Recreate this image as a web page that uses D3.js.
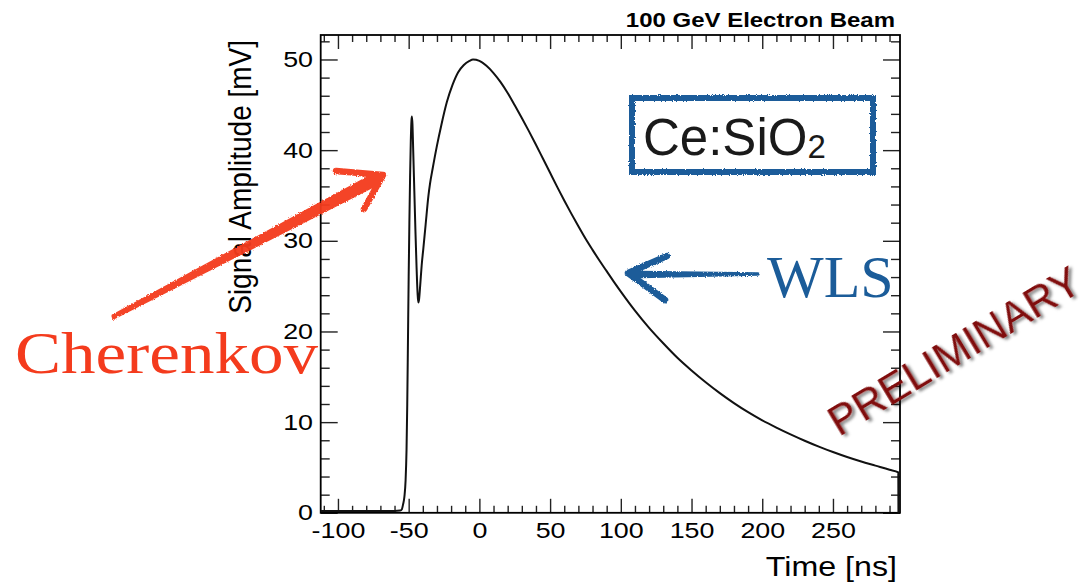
<!DOCTYPE html>
<html>
<head>
<meta charset="utf-8">
<script src="https://cdn.jsdelivr.net/npm/d3@7/dist/d3.min.js"></script>
<style>
  html, body { margin: 0; padding: 0; background: #fff; }
  svg { display: block; }
  .rootfont { font-family: "Liberation Sans", Arial, Helvetica, sans-serif; }
</style>
</head>
<body>
<svg id="chart" width="1089" height="583"></svg>
<script>
// Signal waveform: time [ns] and amplitude [mV]
const timeNs = [
  -112.2, -100, -90, -80, -70, -60, -56, -54.8, -54, -53, -52.2, -51.5, -51, -50.5,
  -50, -49.5, -49, -48.5, -48.0, -47.7, -47.3, -46.8, -46, -45.2, -44.4, -43.7,
  -43.2, -42.6, -41.8, -40.8, -39.6, -38, -36, -34.9, -33, -30, -27, -23, -19,
  -15, -11, -7, -4.5, 0, 5, 10, 15, 20, 25, 30, 35, 40, 45, 50, 55, 60, 65,
  70, 75, 80, 85, 90, 95, 100, 110, 120, 130, 140, 150, 160, 170, 180, 190, 200,
  210, 220, 230, 240, 250, 260, 270, 280, 290, 296.2, 296.3
];
const amplitudeMv = [
  0.2, 0.2, 0.2, 0.2, 0.2, 0.2, 0.25, 0.4, 0.9, 1.8, 3.5, 7, 12, 19,
  26, 32, 37, 41, 43.3, 43.7, 42.8, 40, 35.5, 31, 27, 24.2,
  23.2, 23.6, 25.2, 27.3, 29.2, 31.8, 35.0, 36.3, 38.0, 40.5, 42.7, 45.3, 47.2,
  48.6, 49.4, 49.85, 50.0, 49.85, 49.3, 48.5, 47.5, 46.3, 44.95, 43.55, 42.1, 40.6, 39.05, 37.5, 35.95, 34.45, 33.0,
  31.6, 30.25, 29.0, 27.8, 26.65, 25.5, 24.4, 22.3, 20.4, 18.7, 17.1, 15.7, 14.4, 13.2, 12.1, 11.1, 10.2,
  9.4, 8.65, 7.95, 7.3, 6.7, 6.15, 5.65, 5.2, 4.75, 4.45, 0
];

// Axis ticks
const xMajorTicks = [-100, -50, 0, 50, 100, 150, 200, 250];
const xMinorTicks = [-110, -90, -80, -70, -60, -40, -30, -20, -10, 10, 20, 30, 40, 60, 70, 80, 90,
                     110, 120, 130, 140, 160, 170, 180, 190, 210, 220, 230, 240, 260, 270, 280, 290];
const yMajorTicks = [0, 10, 20, 30, 40, 50];
const yMinorTicks = [2, 4, 6, 8, 12, 14, 16, 18, 22, 24, 26, 28, 32, 34, 36, 38, 42, 44, 46, 48, 52];

// Text
const plotTitle = "100 GeV Electron Beam";
const xTitle = "Time [ns]";
const yTitle = "Signal Amplitude [mV]";

const svg = d3.select("#chart");

// Frame geometry
const L = 320.7, R = 900, T = 35, B = 512.8;

const x = d3.scaleLinear().domain([-112.2, 297.4]).range([L, R]);
const y = d3.scaleLinear().domain([0, 52.7]).range([B, T]);

// Filters: rough marker strokes and a drop shadow
const defs = svg.append("defs");
const rough = defs.append("filter").attr("id", "rough")
  .attr("x", "-10%").attr("y", "-10%").attr("width", "120%").attr("height", "120%");
rough.append("feTurbulence").attr("type", "fractalNoise").attr("baseFrequency", 0.9)
  .attr("numOctaves", 2).attr("seed", 3).attr("result", "noise");
rough.append("feDisplacementMap").attr("in", "SourceGraphic").attr("in2", "noise")
  .attr("scale", 3).attr("xChannelSelector", "R").attr("yChannelSelector", "G");

const shadow = defs.append("filter").attr("id", "shadow")
  .attr("x", "-20%").attr("y", "-40%").attr("width", "140%").attr("height", "180%");
shadow.append("feDropShadow").attr("dx", 2).attr("dy", 3).attr("stdDeviation", 1.8)
  .attr("flood-color", "#000").attr("flood-opacity", 0.5);

// Axes (ticks point inward, ROOT style)
function styleAxis(g) {
  g.select(".domain").remove();
  g.selectAll(".tick line").attr("stroke", "#222").attr("stroke-width", 1.4);
}
const plainNumber = d => String(d);

const gAx = svg.append("g").attr("class", "rootfont");

gAx.append("g").attr("transform", `translate(0,${B})`)
  .call(d3.axisBottom(x).tickValues(xMinorTicks).tickSize(-7).tickFormat(""))
  .call(styleAxis);
const xAxisG = gAx.append("g").attr("transform", `translate(0,${B})`)
  .call(d3.axisBottom(x).tickValues(xMajorTicks).tickSize(-14).tickSizeOuter(0)
    .tickPadding(10).tickFormat(plainNumber))
  .call(styleAxis);
xAxisG.selectAll(".tick text")
  .attr("font-size", 22).attr("fill", "#000")
  .attr("font-family", "Liberation Sans, Arial, sans-serif")
  .attr("transform", "scale(1.22,1)");

gAx.append("g").attr("transform", `translate(0,${T})`)
  .call(d3.axisTop(x).tickValues(xMinorTicks).tickSize(-7).tickFormat(""))
  .call(styleAxis);
gAx.append("g").attr("transform", `translate(0,${T})`)
  .call(d3.axisTop(x).tickValues(xMajorTicks).tickSize(-14).tickFormat(""))
  .call(styleAxis);

gAx.append("g").attr("transform", `translate(${L},0)`)
  .call(d3.axisLeft(y).tickValues(yMinorTicks).tickSize(-9).tickFormat(""))
  .call(styleAxis);
const yAxisG = gAx.append("g").attr("transform", `translate(${L},0)`)
  .call(d3.axisLeft(y).tickValues(yMajorTicks).tickSize(-17).tickPadding(6.3)
    .tickFormat(plainNumber))
  .call(styleAxis);
yAxisG.selectAll(".tick text")
  .attr("font-size", 22).attr("fill", "#000")
  .attr("font-family", "Liberation Sans, Arial, sans-serif")
  .attr("transform", "scale(1.22,1)");

gAx.append("g").attr("transform", `translate(${R},0)`)
  .call(d3.axisRight(y).tickValues(yMinorTicks).tickSize(-9).tickFormat(""))
  .call(styleAxis);
gAx.append("g").attr("transform", `translate(${R},0)`)
  .call(d3.axisRight(y).tickValues(yMajorTicks).tickSize(-17).tickFormat(""))
  .call(styleAxis);

// Frame
svg.append("rect")
  .attr("x", L).attr("y", T).attr("width", R - L).attr("height", B - T)
  .attr("fill", "none").attr("stroke", "#000").attr("stroke-width", 1.8);

// Waveform
const pts = timeNs.map((t, i) => [t, amplitudeMv[i]]);
svg.append("path")
  .datum(pts)
  .attr("d", d3.line().x(d => x(d[0])).y(d => y(d[1])).curve(d3.curveMonotoneX))
  .attr("fill", "none").attr("stroke", "#111").attr("stroke-width", 2)
  .attr("stroke-linejoin", "round");

// Titles
svg.append("text").attr("class", "rootfont")
  .attr("transform", "translate(895,27) scale(1.23,1)")
  .attr("text-anchor", "end").attr("font-size", 19.5).attr("font-weight", "bold")
  .text(plotTitle);

svg.append("text").attr("class", "rootfont")
  .attr("transform", "translate(897,576) scale(1.13,1)")
  .attr("text-anchor", "end").attr("font-size", 28.5)
  .text(xTitle);

svg.append("text").attr("class", "rootfont")
  .attr("transform", "translate(251,40) scale(1.13,1) rotate(-90)")
  .attr("text-anchor", "end").attr("font-size", 28)
  .text(yTitle);

// Material label box
svg.append("rect")
  .attr("x", 632).attr("y", 98).attr("width", 241).attr("height", 74)
  .attr("fill", "none").attr("stroke", "#1d5c9a").attr("stroke-width", 6)
  .attr("filter", "url(#rough)");
const mat = svg.append("text").attr("class", "rootfont")
  .attr("x", 643).attr("y", 155).attr("font-size", 51).attr("fill", "#1a1a1a");
mat.append("tspan").text("Ce:SiO");
mat.append("tspan").attr("font-size", 33).attr("dy", 3).text("2");

// WLS annotation
const blue = "#1b5c99";
const gBlue = svg.append("g").attr("filter", "url(#rough)");
gBlue.append("path").attr("d", "M758,274 L640,272.5 L632,274 L640,276.5 Z")
  .attr("fill", blue).attr("stroke", blue).attr("stroke-width", 3.5).attr("stroke-linejoin", "round");
gBlue.append("path").attr("d", "M667,256 L628,273 L665,300")
  .attr("stroke", blue).attr("stroke-width", 6.5).attr("fill", "none")
  .attr("stroke-linecap", "round").attr("stroke-linejoin", "round");
svg.append("text")
  .attr("x", 767).attr("y", 297)
  .attr("font-family", "Liberation Serif, Times New Roman, serif")
  .attr("font-size", 60).attr("fill", blue)
  .text("WLS");

// Cherenkov annotation
const red = "#f43b1d";
const gRed = svg.append("g").attr("filter", "url(#rough)").attr("opacity", 0.95);
gRed.append("path").attr("d", "M112.6,315.6 L374.9,173.5 L381.1,182.5 L113.4,318.4 Z")
  .attr("fill", red).attr("stroke", red).attr("stroke-width", 2.5).attr("stroke-linejoin", "round");
gRed.append("path").attr("d", "M336,171 L383,175 L364,209")
  .attr("stroke", red).attr("stroke-width", 6.5).attr("fill", "none")
  .attr("stroke-linecap", "round").attr("stroke-linejoin", "round");
svg.append("text")
  .attr("x", 15).attr("y", 373)
  .attr("font-family", "Liberation Serif, Times New Roman, serif")
  .attr("font-size", 60).attr("fill", red)
  .attr("textLength", 303).attr("lengthAdjust", "spacingAndGlyphs")
  .text("Cherenkov");

// Preliminary stamp
svg.append("text").attr("class", "rootfont")
  .attr("transform", "translate(839,437) rotate(-31)")
  .attr("font-size", 42.3).attr("fill", "#800c0c")
  .attr("filter", "url(#shadow)")
  .text("PRELIMINARY");
</script>
</body>
</html>
